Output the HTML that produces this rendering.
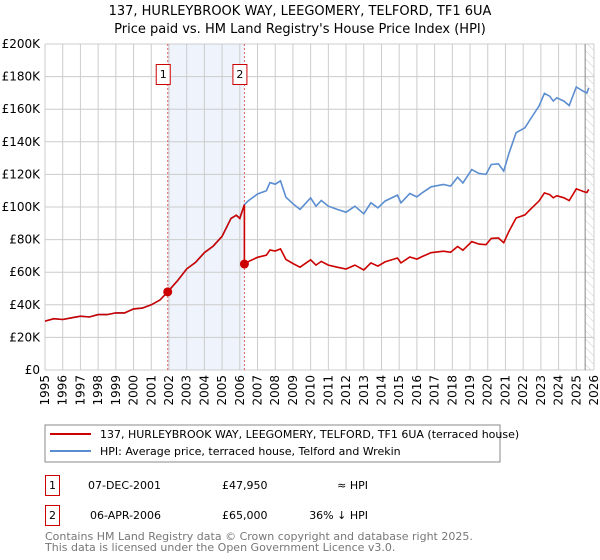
<!DOCTYPE html>
<html><head><meta charset="utf-8"><style>
body{margin:0;background:#fff;font-family:"DejaVu Sans","Liberation Sans",sans-serif;}
svg{display:block}
</style></head><body>
<svg id="c" width="600" height="560" xmlns="http://www.w3.org/2000/svg" font-family="DejaVu Sans, Liberation Sans, sans-serif">
<defs><pattern id="hatch" width="6" height="6" patternUnits="userSpaceOnUse" patternTransform="rotate(-45)"><line x1="0" y1="0" x2="0" y2="6" stroke="#ccc" stroke-width="1"/></pattern></defs>
<text x="300" y="15" text-anchor="middle" font-size="13">137, HURLEYBROOK WAY, LEEGOMERY, TELFORD, TF1 6UA</text>
<text x="300" y="33" text-anchor="middle" font-size="13">Price paid vs. HM Land Registry's House Price Index (HPI)</text>
<g id="grid"></g><g id="marks"></g><g id="axes"></g>
<rect x="45" y="425" width="455" height="37" fill="#fff" stroke="#888"/>
<line x1="50" y1="434" x2="91" y2="434" stroke="#cc0000" stroke-width="2"/>
<text x="100" y="438" font-size="11">137, HURLEYBROOK WAY, LEEGOMERY, TELFORD, TF1 6UA (terraced house)</text>
<line x1="50" y1="451" x2="91" y2="451" stroke="#5b8ed0" stroke-width="2"/>
<text x="100" y="455" font-size="11">HPI: Average price, terraced house, Telford and Wrekin</text>
<g font-size="11">
<rect x="45.5" y="475.5" width="14" height="20" fill="none" stroke="#cc0000"/>
<text x="52.5" y="489" text-anchor="middle">1</text>
<text x="88" y="489">07-DEC-2001</text><text x="222" y="489">£47,950</text><text x="368" y="489" text-anchor="end">≈ HPI</text>
<rect x="45.5" y="505.5" width="14" height="20" fill="none" stroke="#cc0000"/>
<text x="52.5" y="519" text-anchor="middle">2</text>
<text x="90" y="519">06-APR-2006</text><text x="222" y="519">£65,000</text><text x="368" y="519" text-anchor="end">36% ↓ HPI</text>
</g>
<text x="45" y="540" font-size="11" fill="#777">Contains HM Land Registry data © Crown copyright and database right 2025.</text>
<text x="45" y="551" font-size="11" fill="#777">This data is licensed under the Open Government Licence v3.0.</text>
</svg>
<script>
const hpiYears=[1995,1995.5,1996,1996.5,1997,1997.5,1998,1998.5,1999,1999.5,2000,2000.5,2001,2001.5,2001.93,2002.5,2003,2003.5,2004,2004.5,2005,2005.5,2005.8,2006,2006.26,2006.5,2007,2007.5,2007.7,2008,2008.3,2008.6,2009,2009.4,2010,2010.3,2010.6,2011,2011.5,2012,2012.5,2013,2013.4,2013.8,2014.2,2014.9,2015.1,2015.6,2016,2016.3,2016.8,2017.5,2017.9,2018.3,2018.6,2019.1,2019.5,2019.9,2020.2,2020.6,2020.9,2021.2,2021.6,2022.1,2022.4,2022.9,2023.2,2023.5,2023.7,2023.9,2024.3,2024.6,2025,2025.4,2025.6,2025.7];
const hpiValues=[30,31.5,31,32,33,32.5,34,34,35,35,37.5,38,40,43,47.95,55,62,66,72,76,82,93,95,93,101.5,104,108,110,115,114,116,106,102,98.5,105.6,100.5,104,100.5,98.5,96.8,100.5,95.8,102.6,99.5,103.6,107.3,102.6,108.3,106.2,108.7,112.4,113.8,112.8,118.3,114.8,123,120.6,120,126.1,126.5,122,133,145.6,148.6,153.7,162,169.7,168,165,167,165,162.3,173.6,171,170,173];
const saleYears=[2001.93,2006.26];
const salePrices=[47.95,65];
const yTicks=[0,20,40,60,80,100,120,140,160,180,200];
const xTicks=[1995,1996,1997,1998,1999,2000,2001,2002,2003,2004,2005,2006,2007,2008,2009,2010,2011,2012,2013,2014,2015,2016,2017,2018,2019,2020,2021,2022,2023,2024,2025,2026];
const NS="http://www.w3.org/2000/svg";
const X0=45,X1=594,Y0=370,Y1=44;
const xs=y=>X0+(y-1995)/(2026-1995)*(X1-X0);
const ys=v=>Y0-v/200*(Y0-Y1);
function mk(t,a,p){const e=document.createElementNS(NS,t);for(const k in a)e.setAttribute(k,a[k]);p.appendChild(e);return e;}
const grid=document.getElementById('grid'),marks=document.getElementById('marks'),axes=document.getElementById('axes');
let r=mk('rect',{x:xs(saleYears[0]),y:Y1,width:xs(saleYears[1])-xs(saleYears[0]),height:Y0-Y1,fill:'#eef3fc'},grid);


let h=mk('rect',{x:xs(2025.5),y:Y1,width:X1-xs(2025.5),height:Y0-Y1,fill:'url(#hatch)'},grid);


yTicks.forEach(v=>{mk('line',{x1:X0,x2:X1,y1:ys(v),y2:ys(v),stroke:'#ccc'},grid);
 const t=mk('text',{x:X0-5,y:ys(v)+4,'text-anchor':'end','font-size':'12'},axes);t.textContent='£'+(v?v+'K':'0');
 
 });
xTicks.forEach(y=>{mk('line',{x1:xs(y),x2:xs(y),y1:Y1,y2:Y0,stroke:'#ccc'},grid);
 const t=mk('text',{transform:`translate(${xs(y)+4},${Y0+5}) rotate(-90)`,'text-anchor':'end','font-size':'12'},axes);t.textContent=y;
 
 });
mk('line',{x1:xs(2025.5),x2:xs(2025.5),y1:Y1,y2:Y0,stroke:'#888'},grid);
function interp(y){for(let i=1;i<hpiYears.length;i++)if(hpiYears[i]>=y){const f=(y-hpiYears[i-1])/(hpiYears[i]-hpiYears[i-1]);return hpiValues[i-1]+f*(hpiValues[i]-hpiValues[i-1]);}return hpiValues[hpiValues.length-1];}
const hp=mk('path',{d:hpiYears.map((y,i)=>(i?'L':'M')+xs(y).toFixed(1)+','+ys(hpiValues[i]).toFixed(1)).join(''),fill:'none',stroke:'#5b8ed0','stroke-width':1.6},marks);


let d='',first=true;
hpiYears.forEach((y,i)=>{let v;
 if(y<saleYears[1]) v=hpiValues[i]*salePrices[0]/interp(saleYears[0]);
 else v=hpiValues[i]*salePrices[1]/interp(saleYears[1]);
 if(y>=saleYears[1]&&hpiYears[i-1]<saleYears[1]){const pv=interp(saleYears[1])*salePrices[0]/interp(saleYears[0]);d+='L'+xs(saleYears[1]).toFixed(1)+','+ys(pv).toFixed(1)+'L'+xs(saleYears[1]).toFixed(1)+','+ys(salePrices[1]).toFixed(1);}
 d+=(first?'M':'L')+xs(y).toFixed(1)+','+ys(v).toFixed(1);first=false;});
const pp=mk('path',{d:d,fill:'none',stroke:'#cc0000','stroke-width':1.6},marks);


saleYears.forEach((y,i)=>{
 const l=mk('line',{x1:xs(y),x2:xs(y),y1:Y1,y2:Y0,stroke:'#e06060','stroke-dasharray':'2,2'},grid);
 
 
 const c=mk('circle',{cx:xs(y),cy:ys(salePrices[i]),r:4.5,fill:'#cc0000'},marks);
 
 
 const b=mk('rect',{x:xs(y)-11.5,y:64.5,width:14,height:20,fill:'#fff',stroke:'#cc0000'},marks);
 
 
 const t=mk('text',{x:xs(y)-4.5,y:78,'text-anchor':'middle','font-size':'11'},marks);t.textContent=String(i+1);
 
 });
</script>
</body></html>
